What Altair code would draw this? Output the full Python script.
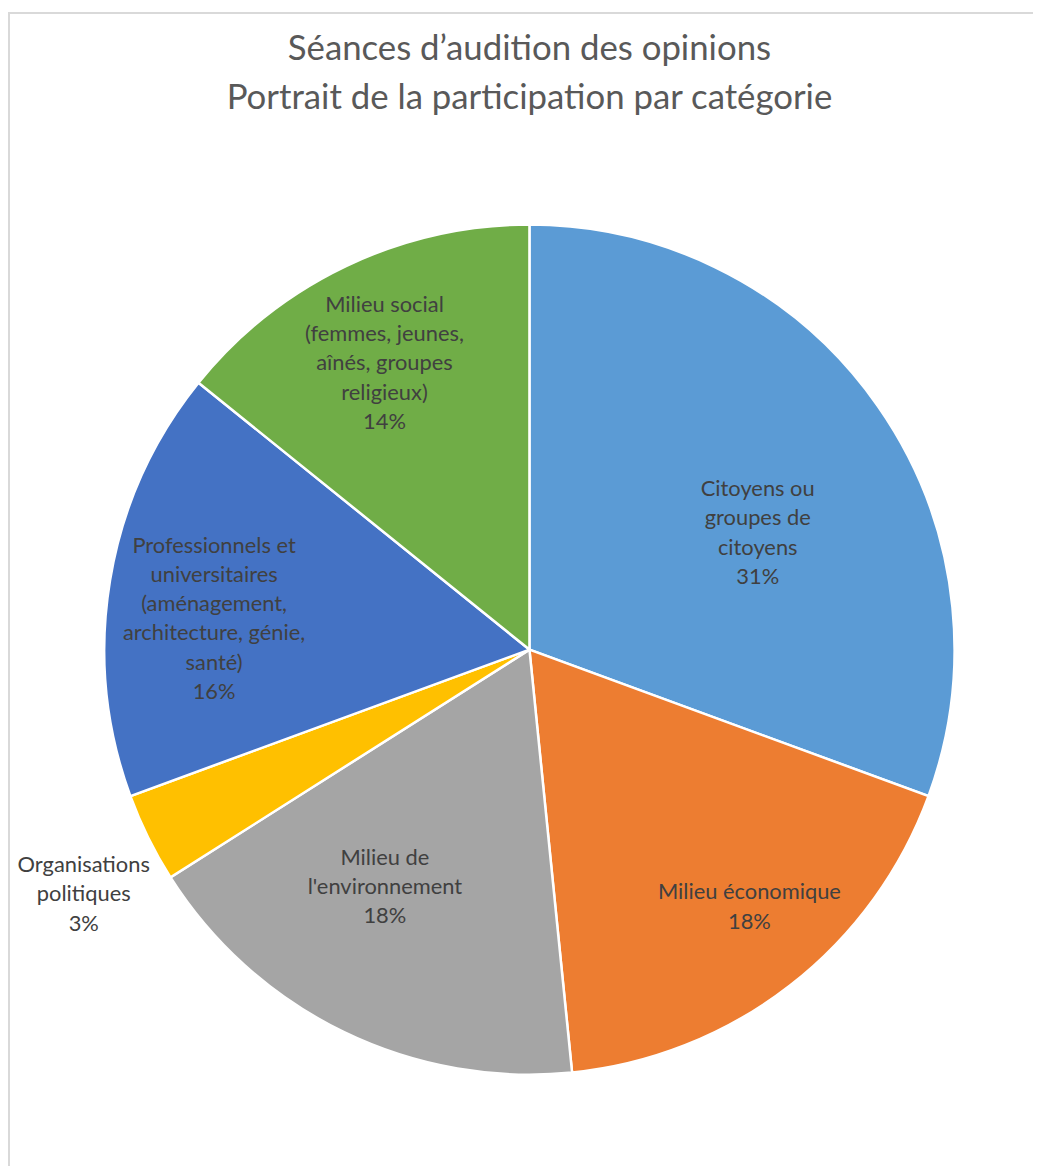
import altair as alt
import pandas as pd

# ---- data ----
CATEGORIES = [
    "Citoyens ou groupes de citoyens",
    "Milieu économique",
    "Milieu de l'environnement",
    "Organisations politiques",
    "Professionnels et universitaires (aménagement, architecture, génie, santé)",
    "Milieu social (femmes, jeunes, aînés, groupes religieux)",
]
LABEL_LINES = [
    ["Citoyens ou", "groupes de", "citoyens"],
    ["Milieu économique"],
    ["Milieu de", "l'environnement"],
    ["Organisations", "politiques"],
    ["Professionnels et", "universitaires", "(aménagement,", "architecture, génie,", "santé)"],
    ["Milieu social", "(femmes, jeunes,", "aînés, groupes", "religieux)"],
]
SHARES = [30.6, 17.8, 17.6, 3.4, 16.4, 14.2]
COLORS = ["#5B9BD5", "#ED7D31", "#A5A5A5", "#FFC000", "#4472C4", "#70AD47"]
TITLE = "Séances d\u2019audition des opinions\nPortrait de la participation par catégorie"

# ---- layout ----
LABEL_RADIUS = [258, 341, 280, 512, 319, 323]
LABEL_NUDGE_DEG = [7.9, -2.7, 5.4, -2.5, -3.8, -1.3]
PIE_RADIUS = 428
LABEL_LH = 29.5
W, H = 1020, 1042
PAD = {"left": 12, "top": 120, "right": 0, "bottom": 0}
CX, CY = 513, 522

df = pd.DataFrame({
    "cat": CATEGORIES,
    "share": SHARES,
    "idx": list(range(len(CATEGORIES))),
    "label": ["\n".join(lines + [f"{round(v)}%"]) for lines, v in zip(LABEL_LINES, SHARES)],
    "nlines": [len(lines) + 1 for lines in LABEL_LINES],
    "lr": LABEL_RADIUS,
    "nudge": LABEL_NUDGE_DEG,
})
TOTAL = float(sum(SHARES))

pie = alt.Chart(df).mark_arc(radius=PIE_RADIUS, stroke="white", strokeWidth=2.5).encode(
    x=alt.value(CX), y=alt.value(CY),
    theta=alt.Theta("share:Q", stack=True),
    order=alt.Order("idx:Q"),
    color=alt.Color("cat:N", scale=alt.Scale(domain=CATEGORIES, range=COLORS), legend=None),
)

labels = alt.Chart(df).transform_window(
    cum="sum(share)", sort=[alt.SortField("idx")]
).transform_calculate(
    ang=f"2 * PI * (datum.cum - datum.share / 2) / {TOTAL} + datum.nudge * PI / 180"
).transform_calculate(
    px=f"{CX} + datum.lr * sin(datum.ang)",
    py=f"{CY} - datum.lr * cos(datum.ang) - (datum.nlines - 1) * {LABEL_LH} / 2",
).mark_text(
    font="Lato", fontSize=22, color="#404040", lineBreak="\n", lineHeight=LABEL_LH,
    align="center", baseline="middle",
).encode(
    x=alt.X("px:Q", scale=None),
    y=alt.Y("py:Q", scale=None),
    text="label:N",
)

title = alt.Chart(pd.DataFrame({"t": [TITLE]})).mark_text(
    font="Lato", fontSize=35, color="#595959", lineBreak="\n", lineHeight=50,
    align="center", baseline="middle",
).encode(x=alt.value(CX), y=alt.value(-83), text="t:N")

frame_df = pd.DataFrame({"k": [0]})
left_line = alt.Chart(frame_df).mark_rule(color="#D9D9D9", strokeWidth=2).encode(
    x=alt.value(-11), y=alt.value(-120), y2=alt.value(H)
)
top_line = alt.Chart(frame_df).mark_rule(color="#D9D9D9", strokeWidth=2).encode(
    x=alt.value(-12), x2=alt.value(W), y=alt.value(-119)
)

chart = alt.layer(left_line, top_line, title, pie, labels).properties(
    width=W, height=H,
    autosize=alt.AutoSizeParams(type="none"),
    padding=PAD,
    view=alt.ViewBackground(stroke="transparent", strokeWidth=0),
).configure_view(strokeWidth=0, stroke="transparent").configure(background="white")

chart.save("out.html", embed_options={"renderer": "svg", "actions": False})
